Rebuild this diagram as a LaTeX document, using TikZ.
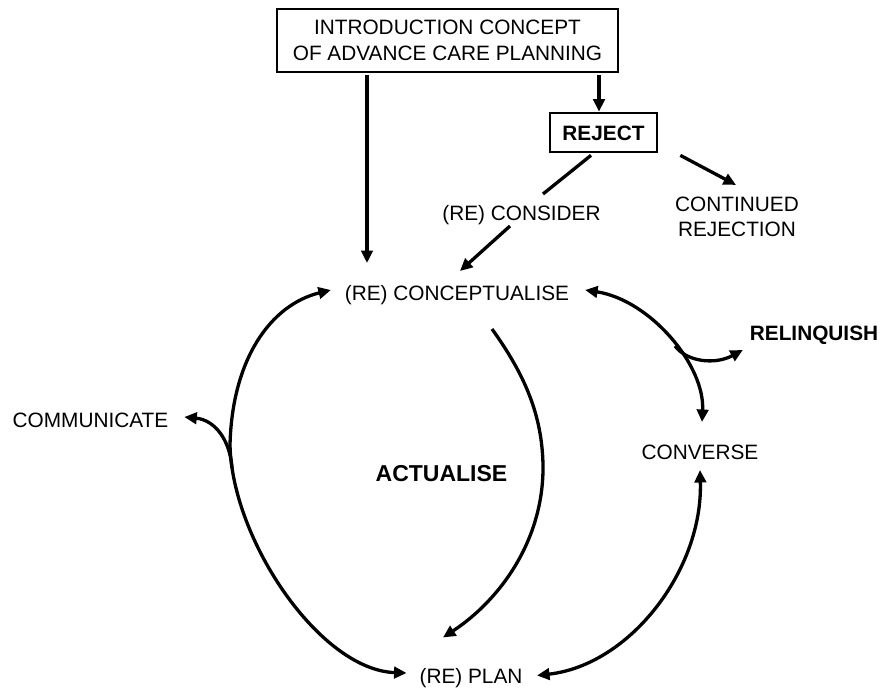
\documentclass[tikz,border=0pt]{standalone}
\usepackage{fontspec}
\setmainfont{Liberation Sans}
\usetikzlibrary{arrows.meta}
\begin{document}
\begin{tikzpicture}[x=1pt,y=-1pt,
  lbl/.style={inner sep=0pt, outer sep=0pt, text height=15pt, text depth=0pt, font=\fontsize{20.8}{25}\selectfont},
  boxed/.style={draw, line width=2.7pt, inner sep=0pt},
  tipA/.tip={Triangle[length=12.5pt,width=11.5pt]},
  conn/.style={line width=3.3pt, -tipA},
  conntwo/.style={line width=3.3pt, tipA-tipA},
  plainconn/.style={line width=3.3pt}]
\useasboundingbox (0,0) rectangle (891,693);

% nodes
\node[boxed, minimum width=341pt, minimum height=63pt, align=center,
      font=\fontsize{20.8}{26}\selectfont] (intro) at (447.5,40.5)
      {INTRODUCTION CONCEPT\\OF ADVANCE CARE PLANNING};
\node[boxed, minimum width=107pt, minimum height=39pt, text height=15pt, text depth=0pt,
      font=\fontsize{20.8}{25}\selectfont\bfseries] (reject) at (603.5,132.5) {REJECT};
\node[lbl] (consider) at (521.5,212.5) {(RE) CONSIDER};
\node[align=center, inner sep=0pt, font=\fontsize{20.8}{25}\selectfont] (continued) at (737,217)
      {CONTINUED\\REJECTION};
\node[lbl] (concept) at (457,292.5) {(RE) CONCEPTUALISE};
\node[lbl, font=\fontsize{20.8}{25}\selectfont\bfseries] (relinquish) at (814,332.5) {RELINQUISH};
\node[lbl] (communicate) at (90.5,419.5) {COMMUNICATE};
\node[lbl] (converse) at (700,451.5) {CONVERSE};
\node[lbl, text height=16.5pt, font=\fontsize{23}{27}\selectfont\bfseries] (actualise) at (441.5,472.75) {ACTUALISE};
\node[lbl] (plan) at (471,675.5) {(RE) PLAN};

% branch / mid coordinates
\coordinate (lmid) at (230,445);
\coordinate (lbr) at (232,468);
\coordinate (amid) at (543,465);
\coordinate (rbr) at (675,346);

% straight connectors
\draw[conn] ([xshift=-80.5pt,yshift=-2pt]intro.south) -- ([xshift=-90pt,yshift=22pt]concept.north);
\draw[conn] ([xshift=151.5pt,yshift=-2pt]intro.south) -- ([xshift=-4.5pt]reject.north);
\draw[plainconn] ([xshift=-12.5pt,yshift=-2pt]reject.south) -- ([xshift=21.5pt,yshift=11pt]consider.north);
\draw[conn] ([xshift=-11.5pt,yshift=-6pt]consider.south) -- ([xshift=3pt,yshift=14pt]concept.north);
\draw[conn] ([xshift=22pt,yshift=-2pt]reject.south east) -- ([xshift=-1pt,yshift=12pt]continued.north);

% left arc (concept <-> plan) with communicate branch
\draw[conntwo] ([xshift=-14pt,yshift=2.5pt]concept.west) .. controls (270,305) and (232,360) .. (lmid)
   .. controls (232,540) and (320,670) .. ([xshift=-13pt,yshift=2.5pt]plan.west);
\draw[conn] (lbr) .. controls (230,440) and (215,420) .. ([xshift=16pt,yshift=2.5pt]communicate.east);

% actualise arc
\draw[conn] ([xshift=35pt,yshift=-29pt]concept.south) .. controls (525,375) and (542,415) .. (amid)
   .. controls (544,540) and (500,600) .. ([xshift=-28pt,yshift=30.5pt]plan.north);

% right upper arc (concept <-> converse) with relinquish branch
\draw[conntwo] ([xshift=16pt,yshift=2.5pt]concept.east) .. controls (650,300) and (705,365) .. ([xshift=2pt,yshift=22pt]converse.north);
\draw[conn] (rbr) .. controls (687,362) and (715,365) .. ([xshift=-7pt,yshift=-17.5pt]relinquish.west);

% right lower arc (plan <-> converse)
\draw[conntwo] ([xshift=14.6pt]plan.east) .. controls (630,665) and (703,570) .. ([yshift=-11pt]converse.south);
\end{tikzpicture}
\end{document}
